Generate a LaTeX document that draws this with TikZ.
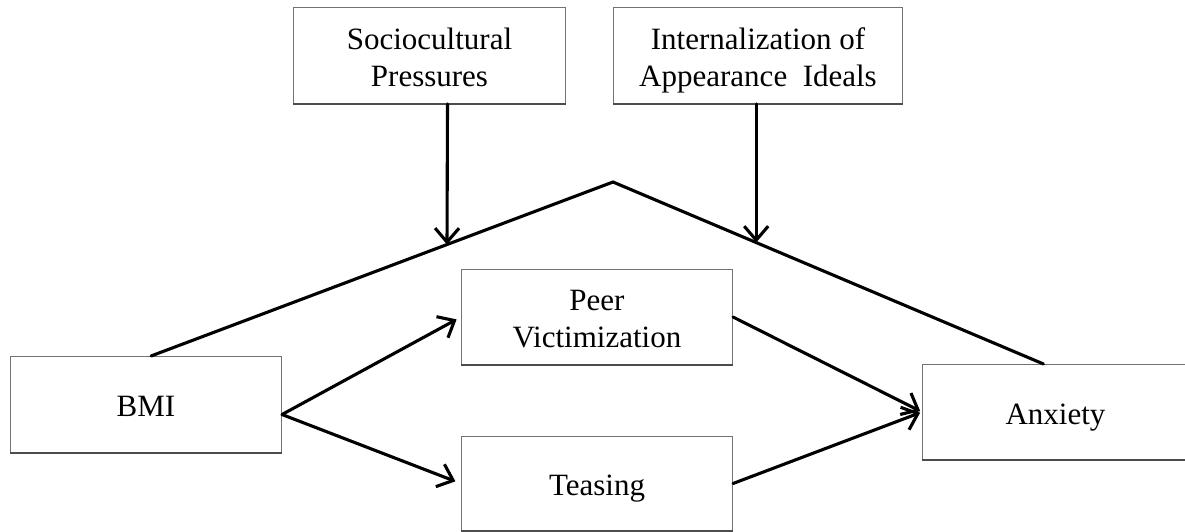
\documentclass[tikz,border=0pt]{standalone}
\usepackage{fontspec}
\setmainfont{Liberation Serif}
\usetikzlibrary{arrows.meta,calc}
\newcommand\mytxt[1]{\raisebox{-5pt}[\height][\depth]{\begin{tabular}{@{}c@{}}#1\end{tabular}}}
\tikzset{
  box/.style={draw=black!55, line width=1pt, fill=white, inner sep=0pt,
    anchor=north west, font=\fontsize{31pt}{37pt}\selectfont},
  boxfloor/.style={draw=black!70, line width=2.6pt},
  link/.style={draw=black, line width=3.1pt, line cap=round, line join=miter},
  arr/.style={link, -{Straight Barb[length=14pt,width=24pt,line width=3.1pt]}},
}
\begin{document}
\begin{tikzpicture}[x=1pt,y=-1pt]
\useasboundingbox[fill=white] (0,0) rectangle (1185,531);
% boxes
\node[box, minimum width=272pt, minimum height=96pt] (soc) at (293,7) {\mytxt{Sociocultural\\Pressures}};
\node[box, minimum width=289pt, minimum height=96pt] (int) at (613,7) {\mytxt{Internalization of\\Appearance~ Ideals}};
\node[box, minimum width=271pt, minimum height=96pt] (bmi) at (10,356) {\mytxt{BMI}};
\node[box, minimum width=271pt, minimum height=95pt] (peer) at (461,269) {\mytxt{Peer\\Victimization}};
\node[box, minimum width=271pt, minimum height=94pt] (teas) at (461,436) {\mytxt{Teasing}};
\node[box, minimum width=266pt, minimum height=95pt] (anx) at (922,364) {\mytxt{Anxiety}};
\foreach \b in {soc,int,bmi,peer,teas,anx}
  \draw[boxfloor] (\b.south west) -- (\b.south east);
% moderation lines
\coordinate (bmitop) at ([xshift=5pt]bmi.north);
\coordinate (anxtop) at ([xshift=-12pt]anx.north);
\coordinate (apex) at (613,182);
\draw[link] (bmitop) -- (apex) -- (anxtop);
\path (bmitop) -- (apex) coordinate[pos=0.6407] (m1);
\path (apex) -- (anxtop) coordinate[pos=0.3326] (m2);
\draw[arr] ([xshift=18pt]soc.south) -- (m1);
\draw[arr] (int.south -| m2) -- (m2);
% mediation paths
\coordinate (bmiout) at ([yshift=-10pt]bmi.east);
\draw[arr, shorten >=5pt] (bmiout) -- (peer.west);
\draw[arr, shorten >=6pt] (bmiout) -- (teas.west);
\draw[arr, shorten >=2pt] (peer.east) -- (anx.west);
\draw[arr, shorten >=2pt] (teas.east) -- (anx.west);
\end{tikzpicture}
\end{document}
